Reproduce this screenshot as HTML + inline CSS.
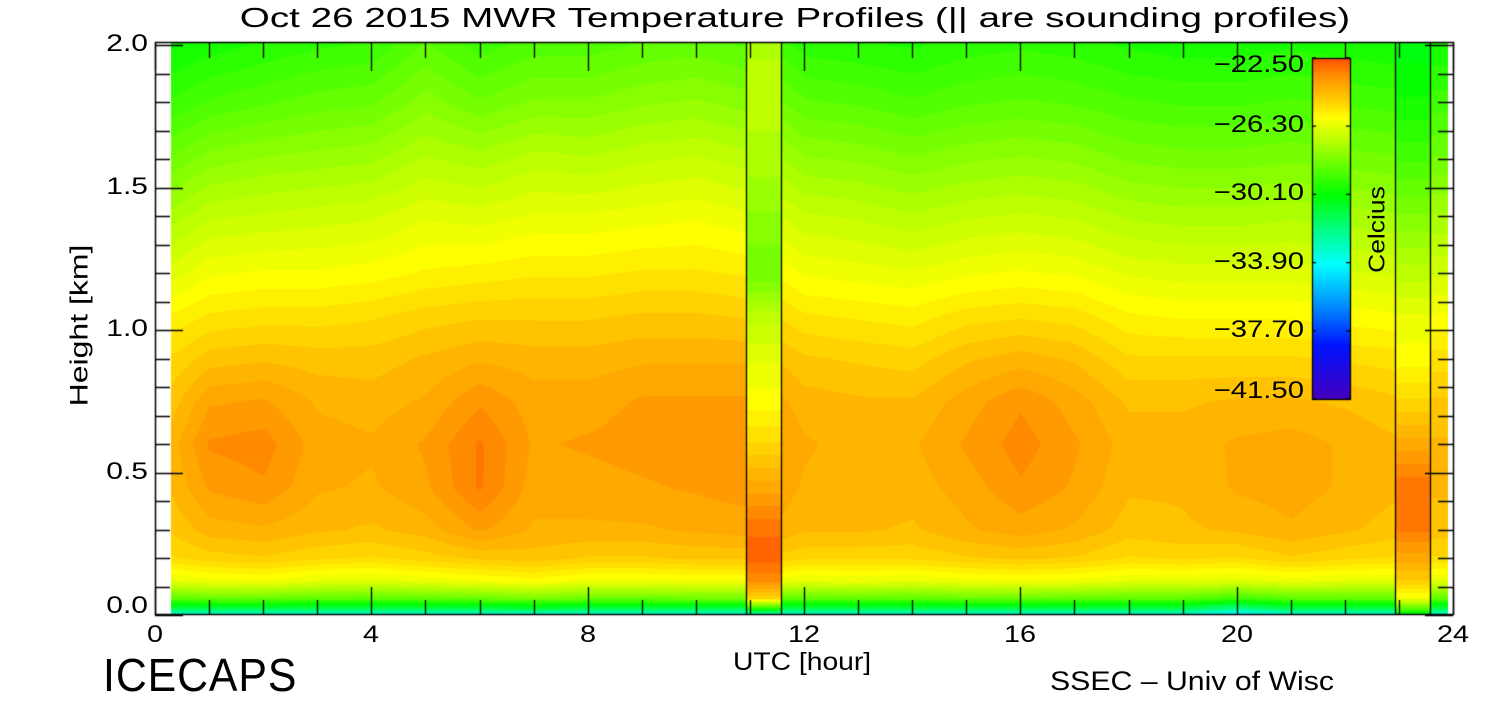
<!DOCTYPE html>
<html><head><meta charset="utf-8"><style>
body{margin:0;background:#fff;width:1500px;height:700px;overflow:hidden;font-family:"Liberation Sans",sans-serif}
#wrap{position:relative;width:1500px;height:700px}
canvas{position:absolute;left:0;top:0}
.t{position:absolute;color:#000;white-space:nowrap}
</style></head><body><div id="wrap">
<canvas id="cv" width="1500" height="700"></canvas>
<div class="t" style="left:295px;width:1000px;text-align:center;top:2px;font-size:28px;transform:scaleX(1.38);transform-origin:500px 0">Oct 26 2015 MWR Temperature Profiles (|| are sounding profiles)</div>
<div class="t" style="left:733px;top:648px;font-size:25px;transform:scaleX(1.13);transform-origin:0 0">UTC [hour]</div>
<div class="t" style="left:0px;top:311px;font-size:25px;transform:rotate(-90deg) scaleX(1.28);width:160px;text-align:center">Height [km]</div>
<div class="t" style="left:103px;top:648px;font-size:46px;font-weight:300;letter-spacing:1px;transform:scaleX(0.93);transform-origin:0 0">ICECAPS</div>
<div class="t" style="left:1050px;top:666px;font-size:27px;transform:scaleX(1.12);transform-origin:0 0">SSEC – Univ of Wisc</div>
<div class="t" style="left:1327px;top:216px;font-size:23px;transform:rotate(-90deg) scaleX(1.15);width:100px;text-align:center">Celcius</div>
<div id="labels"></div>
</div>
<script>
const times=[0.3,1,2,3,4,5,6,7,8,9,10,11,12,13,14,15,16,17,18,19,20,21,22,23,23.9];
const heights=[0,0.02,0.06,0.12,0.2,0.3,0.45,0.6,0.75,0.9,1.05,1.2,1.4,1.6,1.8,2.0];
const temps=[
[-34,-31.5,-28.6,-26.3,-25.1,-24.7,-24.4,-24.3,-24.6,-25,-25.6,-26.4,-27.3,-28.3,-29.2,-29.9],
[-34,-31.5,-28.4,-26.1,-24.9,-24.3,-23.8,-23.5,-23.9,-24.6,-25.3,-26,-26.9,-27.9,-28.9,-29.7],
[-34,-31.5,-28.4,-26.0,-24.8,-24.2,-23.6,-23.4,-23.8,-24.5,-25.2,-25.9,-26.8,-27.7,-28.7,-29.5],
[-34,-31.5,-28.6,-26.3,-25.0,-24.4,-24.1,-24,-24.2,-24.6,-25.2,-25.9,-26.7,-27.6,-28.5,-29.3],
[-34,-31.5,-28.6,-26.4,-25.1,-24.5,-24.2,-24.1,-24.3,-24.6,-25.1,-25.8,-26.6,-27.5,-28.4,-29.2],
[-34,-31.5,-28.5,-26.2,-24.9,-24.3,-23.9,-23.8,-24.1,-24.4,-24.9,-25.6,-26.3,-27.1,-27.9,-28.6],
[-34,-31.5,-28.4,-26.0,-24.7,-23.8,-23.2,-23.2,-23.6,-24.2,-24.8,-25.5,-26.4,-27.3,-28.3,-29.1],
[-34,-31.3,-28.1,-25.8,-24.6,-24.2,-24,-23.9,-24,-24.3,-24.8,-25.4,-26.2,-27.0,-28.0,-28.8],
[-34,-31.5,-28.4,-26.1,-24.8,-24.2,-24,-23.8,-24,-24.3,-24.8,-25.4,-26.2,-27.1,-28.0,-28.8],
[-34,-31.5,-28.4,-26.1,-24.8,-24.2,-23.9,-23.7,-23.8,-24.2,-24.7,-25.3,-26.1,-26.9,-27.8,-28.6],
[-34,-31.5,-28.3,-26.0,-24.7,-24.1,-23.8,-23.6,-23.8,-24.2,-24.7,-25.3,-26.0,-26.8,-27.7,-28.5],
[-34,-31.5,-28.3,-26.0,-24.7,-24,-23.7,-23.6,-23.8,-24.2,-24.8,-25.4,-26.2,-27.0,-27.9,-28.7],
[-34,-31.5,-28.6,-26.3,-25.0,-24.4,-24.2,-24.1,-24.3,-24.7,-25.3,-26,-26.8,-27.7,-28.6,-29.4],
[-34,-31.5,-28.5,-26.2,-25.0,-24.4,-24.3,-24.3,-24.4,-24.8,-25.4,-26.1,-26.9,-27.8,-28.7,-29.5],
[-34,-31.5,-28.6,-26.3,-25.0,-24.5,-24.3,-24.2,-24.4,-24.9,-25.5,-26.2,-27.1,-28.0,-28.9,-29.6],
[-34,-31.5,-28.4,-26.1,-24.8,-24.2,-24,-23.8,-24,-24.5,-25.2,-26,-26.9,-27.8,-28.7,-29.4],
[-34,-31.5,-28.4,-26.0,-24.7,-24,-23.6,-23.4,-23.6,-24.3,-25.1,-25.9,-26.8,-27.7,-28.6,-29.3],
[-34,-31.5,-28.5,-26.1,-24.8,-24.2,-23.9,-23.8,-24,-24.5,-25.2,-26,-26.9,-27.8,-28.7,-29.4],
[-34,-31.5,-28.6,-26.3,-25.1,-24.6,-24.4,-24.3,-24.5,-25,-25.6,-26.3,-27.2,-28.1,-28.9,-29.6],
[-34,-31.5,-28.6,-26.3,-25.0,-24.5,-24.4,-24.3,-24.5,-25,-25.7,-26.4,-27.3,-28.2,-29.0,-29.7],
[-35,-32.5,-29.1,-26.4,-25.1,-24.4,-24.1,-24.1,-24.4,-25,-25.7,-26.4,-27.3,-28.2,-29.0,-29.7],
[-34,-31.5,-28.6,-26.2,-24.8,-24.2,-24,-24,-24.4,-25,-25.7,-26.4,-27.2,-28.1,-28.9,-29.6],
[-34,-31.5,-28.6,-26.3,-25.0,-24.4,-24.2,-24.2,-24.5,-25.1,-25.8,-26.5,-27.3,-28.2,-29.0,-29.7],
[-34,-31.5,-28.6,-26.3,-25.1,-24.6,-24.4,-24.4,-24.7,-25.2,-25.9,-26.6,-27.4,-28.3,-29.1,-29.8],
[-34,-31.5,-28.6,-26.3,-25.1,-24.6,-24.4,-24.4,-24.7,-25.2,-25.9,-26.6,-27.4,-28.3,-29.1,-29.8]];
const soundTimes=[[10.93,11.58],[22.93,23.58]];
const sound1=[-34,-30,-25,-23.5,-22.8,-23,-24,-25,-25.8,-26.3,-27,-28.3,-27.8,-27.3,-27,-27.2];
const sound2=[-31,-29,-26,-24.8,-24,-23.2,-23,-24,-25,-25.8,-26.2,-27,-28,-29,-29.8,-30.3];
const xTicks=[0,4,8,12,16,20,24];
const yTicks=[0.0,0.5,1.0,1.5,2.0];
const cbLabels=[-22.5,-26.3,-30.1,-33.9,-37.7,-41.5];
const cmStops=[[-22.5,255,80,0],[-23.5,255,145,0],[-24.5,255,190,0],[-25.8,255,255,0],[-27,190,255,0],[-28.5,100,255,0],[-30.1,0,255,0],[-32,0,255,130],[-34,0,255,255],[-36.5,0,130,255],[-38.5,0,20,255],[-41.5,70,0,190]];
const X0=155,X1=1453,Y0=615,YS=285;
const xs=t=>X0+(X1-X0)*t/24, ys=h=>Y0-h*YS;
function col(T){T=Math.max(-41.5,Math.min(-22.5,T));
 for(let i=0;i<cmStops.length-1;i++){const a=cmStops[i],b=cmStops[i+1];
  if(T<=a[0]&&T>=b[0]){const f=(a[0]-T)/(a[0]-b[0]);return [a[1]+(b[1]-a[1])*f,a[2]+(b[2]-a[2])*f,a[3]+(b[3]-a[3])*f];}}
 return [0,0,0];}
function prof(p,h){for(let i=0;i<heights.length-1;i++){if(h<=heights[i+1]){const f=(h-heights[i])/(heights[i+1]-heights[i]);return p[i]+(p[i+1]-p[i])*f;}}return p[p.length-1];}
const cv=document.getElementById('cv'),ctx=cv.getContext('2d');
const img=ctx.createImageData(1500,700);
const xa=Math.round(xs(times[0])),xb=Math.round(xs(times[times.length-1]));
const ytop=Math.round(ys(2.0))-2;
for(let x=xa;x<xb;x++){
 const t=(x-X0)/(X1-X0)*24;
 let p=null;
 if(t>=soundTimes[0][0]&&t<soundTimes[0][1])p=sound1;
 else if(t>=soundTimes[1][0]&&t<soundTimes[1][1])p=sound2;
 let i=0;while(i<times.length-2&&t>times[i+1])i++;
 const f=Math.max(0,Math.min(1,(t-times[i])/(times[i+1]-times[i])));
 for(let y=ytop;y<Y0;y++){
  const h=Math.max(0,(Y0-y)/YS);
  let T=p?prof(p,h):prof(temps[i],h)*(1-f)+prof(temps[i+1],h)*f;
  T=Math.round(T/0.3)*0.3;
  const c=col(T),k=(y*1500+x)*4;
  img.data[k]=c[0];img.data[k+1]=c[1];img.data[k+2]=c[2];img.data[k+3]=255;}
}
ctx.putImageData(img,0,0);
ctx.strokeStyle='#000';ctx.lineWidth=1.3;
soundTimes.forEach(s=>{s.forEach(t=>{const x=Math.round(xs(t))+0.5;ctx.beginPath();ctx.moveTo(x,ytop);ctx.lineTo(x,Y0);ctx.stroke();});});
ctx.lineWidth=1.5;ctx.strokeRect(X0+0.5,ys(2.0)-2.5,X1-X0,Y0-ys(2.0)+2);
ctx.lineWidth=1.3;
for(let hr=0;hr<=24;hr++){const x=Math.round(xs(hr))+0.5,L=hr%4==0?28:15;
 ctx.beginPath();ctx.moveTo(x,Y0);ctx.lineTo(x,Y0-L);ctx.moveTo(x,ys(2)-2);ctx.lineTo(x,ys(2)-2+L);ctx.stroke();}
for(let k=0;k<=20;k++){const y=Math.round(ys(k/10))+0.5,L=k%5==0?28:15;
 ctx.beginPath();ctx.moveTo(X0,y);ctx.lineTo(X0+L,y);ctx.moveTo(X1,y);ctx.lineTo(X1-L,y);ctx.stroke();}
const CX=1312,CW=38,CT=58,CB=399;
for(let y=CT;y<CB;y++){const T=-22.5-(y-CT)/(CB-CT)*19;const c=col(T);ctx.fillStyle=`rgb(${c[0]|0},${c[1]|0},${c[2]|0})`;ctx.fillRect(CX,y,CW,1);}
ctx.strokeRect(CX+0.5,CT+0.5,CW,CB-CT);
const lab=document.getElementById('labels');
cbLabels.forEach((v,i)=>{const y=CT+(-22.5-v)/19*(CB-CT);
 ctx.beginPath();ctx.moveTo(CX,y);ctx.lineTo(CX+4,y);ctx.moveTo(CX+CW,y);ctx.lineTo(CX+CW-4,y);ctx.stroke();
 const d=document.createElement('div');d.className='t';
 
 
 d.style.cssText=`left:1200px;width:104px;text-align:right;top:${(i==0?CT+8:i==cbLabels.length-1?CB-7:y)-15}px;font-size:24px;transform:scaleX(1.22);transform-origin:104px 0`;
 d.textContent='\u2212'+Math.abs(v).toFixed(2);lab.appendChild(d);});
xTicks.forEach(v=>{const d=document.createElement('div');d.className='t';
 
 
 d.style.cssText=`left:${xs(v)-40}px;width:80px;text-align:center;top:621px;font-size:24px;transform:scaleX(1.2)`;d.textContent=v;lab.appendChild(d);});
yTicks.forEach(v=>{const d=document.createElement('div');d.className='t';
 
 
 d.style.cssText=`left:80px;width:68px;text-align:right;top:${Math.min(ys(v),607)-15}px;font-size:24px;transform:scaleX(1.25);transform-origin:68px 0`;d.textContent=v.toFixed(1);lab.appendChild(d);});
</script></body></html>
